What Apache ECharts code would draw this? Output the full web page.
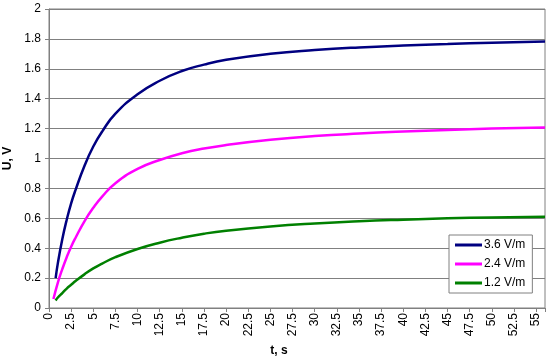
<!DOCTYPE html>
<html>
<head>
<meta charset="utf-8">
<script src="https://cdn.jsdelivr.net/npm/echarts@6/dist/echarts.min.js"></script>
<style>
  html, body { margin: 0; padding: 0; background: #fff; }
  #chart { width: 550px; height: 359px; }
</style>
</head>
<body>
<div id="chart"></div>
<script>
const seriesNames = ["3.6 V/m", "2.4 V/m", "1.2 V/m"]
const seriesColors = ["#000080", "#ff00ff", "#008000"]

// [t, U]
const high = [[0.75, 0.2], [1, 0.3], [1.5, 0.46], [2, 0.59], [2.5, 0.7], [3, 0.79], [4, 0.95], [5, 1.08], [6, 1.18],
  [7.5, 1.3], [10, 1.43], [12.5, 1.52], [15, 1.585], [17.5, 1.628], [20, 1.66], [25, 1.7], [30, 1.725], [35, 1.743],
  [40, 1.756], [45, 1.766], [50, 1.775], [56, 1.783]]
const mid = [[0.5, 0.06], [1, 0.17], [1.5, 0.26], [2, 0.34], [2.5, 0.41], [3, 0.47], [4, 0.58], [5, 0.67], [6, 0.745],
  [7.5, 0.835], [10, 0.93], [12.5, 0.99], [15, 1.035], [17.5, 1.067], [20, 1.09], [25, 1.125], [30, 1.15], [35, 1.167],
  [40, 1.18], [45, 1.19], [50, 1.2], [56, 1.208]]
const low = [[0.75, 0.05], [1, 0.07], [1.5, 0.1], [2, 0.13], [2.5, 0.155], [3, 0.18], [4, 0.225], [5, 0.265], [6, 0.297],
  [7.5, 0.34], [10, 0.395], [12.5, 0.437], [15, 0.47], [17.5, 0.497], [20, 0.517], [25, 0.545], [30, 0.565], [35, 0.58],
  [40, 0.591], [45, 0.6], [50, 0.606], [56, 0.611]]
const seriesData = [high, mid, low]

const font = "Arial, 'Liberation Sans', sans-serif"
const gray = "#808080"

const chart = echarts.init(document.getElementById("chart"))
chart.setOption({
  animation: false,
  grid: {
    left: 49, top: 9, right: 5, bottom: 51,
    outerBoundsMode: "none",
    containLabel: false,
    show: true, borderColor: gray, borderWidth: 1
  },
  legend: {
    orient: "vertical",
    left: 449,
    top: 235,
    padding: [4, 7, 4, 6],
    itemGap: 7,
    itemWidth: 27,
    itemHeight: 3,
    icon: "rect",
    borderColor: gray,
    borderWidth: 1,
    backgroundColor: "#fff",
    textStyle: { fontFamily: font, fontSize: 12, color: "#000", padding: [0, 0, 0, -3] },
    data: seriesNames
  },
  xAxis: {
    type: "value",
    min: 0,
    max: 56,
    interval: 2.5,
    name: "t, s",
    nameLocation: "middle",
    nameGap: 34,
    nameTextStyle: { fontFamily: font, fontSize: 12, fontWeight: "bold", color: "#000", padding: [0, 36, 0, 0] },
    axisLine: { lineStyle: { color: gray } },
    axisTick: { length: 4, lineStyle: { color: gray } },
    axisLabel: {
      rotate: 90, margin: 5, fontFamily: font, fontSize: 12, color: "#000",
      formatter: v => (v > 55 ? "" : String(v))
    },
    splitLine: { show: false }
  },
  yAxis: {
    type: "value",
    min: 0,
    max: 2,
    interval: 0.2,
    name: "U, V",
    nameLocation: "middle",
    nameRotate: 90,
    nameGap: 31,
    nameTextStyle: { fontFamily: font, fontSize: 12, fontWeight: "bold", color: "#000" },
    axisLine: { show: true, lineStyle: { color: gray } },
    axisTick: { show: true, length: 4, lineStyle: { color: gray } },
    axisLabel: { margin: 8, fontFamily: font, fontSize: 12, color: "#000" },
    splitLine: { lineStyle: { color: gray, width: 1 } }
  },
  series: seriesNames.map((name, i) => ({
    name: name,
    type: "line",
    smooth: true,
    showSymbol: false,
    data: seriesData[i],
    color: seriesColors[i],
    lineStyle: { width: 2.5, color: seriesColors[i] }
  }))
})
</script>
</body>
</html>
